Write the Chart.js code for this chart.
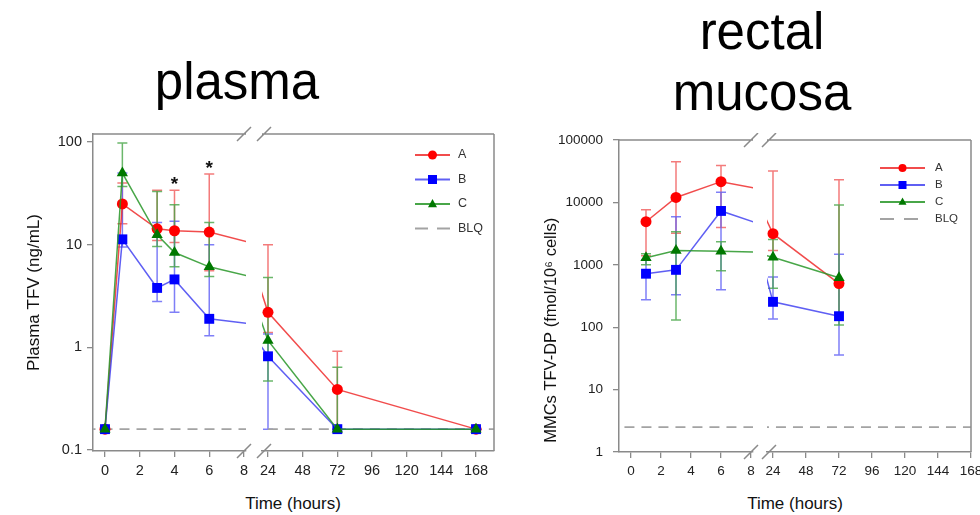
<!DOCTYPE html>
<html>
<head>
<meta charset="utf-8">
<script src="https://cdn.jsdelivr.net/npm/chart.js@4.4.1/dist/chart.umd.min.js"></script>
<style>
html, body { margin: 0; padding: 0; background: #fff; }
#wrap { position: relative; width: 980px; height: 515px; overflow: hidden; }
canvas { position: absolute; }
.ttl, .xt { position: absolute; transform: translateX(-50%); white-space: nowrap; color: #000;
  font-family: "Liberation Sans", Arial, Helvetica, sans-serif; }
.ttl { font-size: 51px; line-height: 51px; }
.xt { font-size: 17px; line-height: 20px; color: #111; }
</style>
</head>
<body>
<div id="wrap">
  <div class="ttl" style="left:237px;top:56px">plasma</div>
  <div class="ttl" style="left:762px;top:6px">rectal</div>
  <div class="ttl" style="left:762px;top:67px">mucosa</div>
  <div class="xt" style="left:293px;top:494px">Time (hours)</div>
  <div class="xt" style="left:795px;top:494px">Time (hours)</div>
  <canvas id="plasmaEarly" width="262" height="515" style="left:0;top:0"></canvas>
  <canvas id="plasmaLate" width="270" height="515" style="left:242px;top:0"></canvas>
  <canvas id="mucosaEarly" width="270" height="382" style="left:500px;top:133px"></canvas>
  <canvas id="mucosaLate" width="260" height="382" style="left:747px;top:133px"></canvas>
</div>
<script>
// ---- data: plasma TFV (ng/mL) ----
const plasmaHours = [0, 1, 3, 4, 6, 24, 72, 168]
const plasmaA = [0.16, 25, 14.3, 13.7, 13.3, 2.2, 0.39, 0.16]
const plasmaALow = [0.16, 16, 11, 10.5, 5.6, 1.4, 0.16, 0.16]
const plasmaAHigh = [0.16, 40, 34, 34, 49, 10, 0.92, 0.16]
const plasmaB = [0.16, 11.3, 3.8, 4.6, 1.9, 0.82, 0.16, 0.16]
const plasmaBLow = [0.16, 9.5, 2.8, 2.2, 1.3, 0.16, 0.16, 0.16]
const plasmaBHigh = [0.16, 50, 16.5, 17, 10, 1.35, 0.16, 0.16]
const plasmaC = [0.16, 50, 12.5, 8.4, 6.1, 1.17, 0.16, 0.16]
const plasmaCLow = [0.16, 37, 9.6, 6.1, 4.9, 0.47, 0.16, 0.16]
const plasmaCHigh = [0.16, 98, 33, 24.5, 16.5, 4.8, 0.64, 0.16]
const plasmaBLQ = 0.16
const plasmaStarHours = [4, 6]
const plasmaStarValues = [43, 62]

// ---- data: rectal mucosa MMCs TFV-DP (fmol/10^6 cells) ----
const mucosaHours = [1, 3, 6, 24, 72]
const mucosaA = [4900, 12000, 21500, 3150, 500]
const mucosaALow = [1400, 3200, 3950, 1700, 170]
const mucosaAHigh = [7600, 45000, 39000, 32000, 23000]
const mucosaB = [720, 830, 7300, 255, 150]
const mucosaBLow = [275, 330, 400, 135, 36]
const mucosaBHigh = [1200, 5900, 14600, 640, 1480]
const mucosaC = [1300, 1700, 1650, 1320, 620]
const mucosaCLow = [1000, 130, 800, 420, 108]
const mucosaCHigh = [1500, 3400, 2350, 2550, 9100]
const mucosaBLQ = 2.5

// ---- tick labels ----
const earlyTicks = [0, 2, 4, 6, 8]
const lateTicks = [24, 48, 72, 96, 120, 144, 168]
const plasmaYTicks = [0.1, 1, 10, 100]
const mucosaYTicks = [1, 10, 100, 1000, 10000, 100000]

const FONT = '"Liberation Sans", Arial, Helvetica, sans-serif'
const AXIS_GREY = '#8a8a8a'
Chart.defaults.font.family = FONT
Chart.defaults.color = '#222'
Chart.defaults.animation = false

const styles = {
    A: { marker: '#ff0000', line: 'rgba(238, 45, 45, 0.85)', err: 'rgba(240, 90, 90, 0.8)', pointStyle: 'circle', radius: 5.5, order: 3 },
    B: { marker: '#0000ff', line: 'rgba(55, 55, 240, 0.8)', err: 'rgba(95, 95, 245, 0.8)', pointStyle: 'rect', radius: 7, order: 2 },
    C: { marker: '#007800', line: 'rgba(40, 150, 40, 0.85)', err: 'rgba(70, 165, 70, 0.8)', pointStyle: 'triangle', radius: 6.5, order: 1 }
}

function seriesDataset(label, hours, values, lows, highs) {
    const s = styles[label]
    return {
        label: label,
        data: hours.map((h, i) => ({ x: h, y: values[i] })),
        errLow: lows,
        errHigh: highs,
        errColor: s.err,
        markerColor: s.marker,
        borderColor: s.line,
        borderWidth: 1.5,
        pointStyle: s.pointStyle,
        pointRadius: s.radius,
        pointBackgroundColor: s.marker,
        pointBorderColor: s.marker,
        pointBorderWidth: 0,
        tension: 0,
        order: s.order
    }
}

function blqDataset(value) {
    return {
        label: 'BLQ',
        data: [{ x: -1000, y: value }, { x: 1000, y: value }],
        borderColor: '#a3a3a3',
        borderWidth: 1.6,
        borderDash: [10, 7],
        pointRadius: 0,
        order: 9
    }
}

// vertical error bars with caps
const errorBarsPlugin = {
    id: 'errorBars',
    beforeDatasetsDraw(chart) {
        const ctx = chart.ctx
        const xs = chart.scales.x
        const ys = chart.scales.y
        const a = chart.chartArea
        ctx.save()
        ctx.beginPath()
        ctx.rect(a.left, a.top - 10, a.right - a.left, a.bottom - a.top + 10)
        ctx.clip()
        chart.data.datasets.forEach((ds) => {
            if (!ds.errLow) return
            ctx.strokeStyle = ds.errColor
            ctx.lineWidth = 1.5
            ds.data.forEach((p, i) => {
                if (p.x < xs.min || p.x > xs.max) return
                if (ds.errLow[i] == ds.errHigh[i]) return
                const px = xs.getPixelForValue(p.x)
                const lo = ys.getPixelForValue(ds.errLow[i])
                const hi = ys.getPixelForValue(ds.errHigh[i])
                ctx.beginPath()
                ctx.moveTo(px, lo)
                ctx.lineTo(px, hi)
                ctx.moveTo(px - 5, lo)
                ctx.lineTo(px + 5, lo)
                ctx.moveTo(px - 5, hi)
                ctx.lineTo(px + 5, hi)
                ctx.stroke()
            })
        })
        ctx.restore()
    }
}

// top / right border of the box and the axis-break slashes
const framePlugin = {
    id: 'frame',
    afterDraw(chart, args, opts) {
        const ctx = chart.ctx
        const a = chart.chartArea
        ctx.save()
        ctx.strokeStyle = AXIS_GREY
        ctx.lineWidth = 1.5
        ctx.beginPath()
        ctx.moveTo(a.left, a.top)
        ctx.lineTo(a.right, a.top)
        if (opts.rightBorder) {
            ctx.moveTo(a.right, a.top)
            ctx.lineTo(a.right, a.bottom)
        }
        const bx = opts.breakSide == 'right' ? a.right - 2 : a.left + 2
        for (const yy of [a.top, a.bottom]) {
            ctx.moveTo(bx - 7, yy + 7)
            ctx.lineTo(bx + 7, yy - 7)
        }
        ctx.stroke()
        ctx.restore()
    }
}

// significance stars
const starPlugin = {
    id: 'stars',
    afterDatasetsDraw(chart, args, opts) {
        if (!opts.hours) return
        const ctx = chart.ctx
        ctx.save()
        ctx.fillStyle = '#111'
        ctx.font = 'bold 19px ' + FONT
        ctx.textAlign = 'center'
        ctx.textBaseline = 'middle'
        opts.hours.forEach((h, i) => {
            ctx.fillText('*', chart.scales.x.getPixelForValue(h), chart.scales.y.getPixelForValue(opts.values[i]) + 5)
        })
        ctx.restore()
    }
}

function drawMarker(ctx, style, x, y, size) {
    ctx.beginPath()
    if (style == 'circle') {
        ctx.arc(x, y, size, 0, Math.PI * 2)
    } else if (style == 'rect') {
        ctx.rect(x - size, y - size, size * 2, size * 2)
    } else {
        ctx.moveTo(x, y - size * 1.1)
        ctx.lineTo(x + size, y + size * 0.7)
        ctx.lineTo(x - size, y + size * 0.7)
        ctx.closePath()
    }
    ctx.fill()
}

// legend inside the plot (line + marker samples)
const legendPlugin = {
    id: 'lineLegend',
    afterDraw(chart, args, opts) {
        if (!opts.show) return
        const ctx = chart.ctx
        const a = chart.chartArea
        const order = ['A', 'B', 'C', 'BLQ']
        ctx.save()
        ctx.font = opts.fontSize + 'px ' + FONT
        ctx.textBaseline = 'middle'
        ctx.textAlign = 'left'
        order.forEach((name, i) => {
            const ds = chart.data.datasets.find((d) => d.label == name)
            const y = a.top + opts.top + i * opts.gap
            const x0 = a.right - opts.right
            ctx.strokeStyle = ds.borderColor
            ctx.lineWidth = name == 'BLQ' ? 2 : 1.8
            ctx.setLineDash(name == 'BLQ' ? opts.dash : [])
            ctx.beginPath()
            ctx.moveTo(x0, y)
            ctx.lineTo(x0 + opts.len, y)
            ctx.stroke()
            ctx.setLineDash([])
            if (name != 'BLQ') {
                ctx.fillStyle = ds.markerColor
                drawMarker(ctx, styles[name].pointStyle, x0 + opts.len / 2, y, opts.marker)
            }
            ctx.fillStyle = '#333'
            ctx.fillText(name, x0 + opts.len + opts.textGap, y)
        })
        ctx.restore()
    }
}

function makeChart(id, cfg) {
    return new Chart(document.getElementById(id), {
        type: 'line',
        data: { datasets: cfg.datasets },
        plugins: [errorBarsPlugin, framePlugin, starPlugin, legendPlugin],
        options: {
            responsive: false,
            animation: false,
            events: [],
            layout: { padding: cfg.pad },
            scales: {
                x: {
                    type: 'linear',
                    min: cfg.xMin,
                    max: cfg.xMax,
                    afterBuildTicks: (scale) => {
                        scale.ticks = cfg.xTicks.map((v) => ({ value: v }))
                    },
                    afterFit: (scale) => {
                        scale.height = 40
                        scale.paddingLeft = 0
                        scale.paddingRight = 0
                    },
                    ticks: {
                        font: { size: cfg.tickSize },
                        color: '#222',
                        padding: 5,
                        maxRotation: 0,
                        autoSkip: false,
                        callback: (v) => String(v)
                    },
                    grid: { drawOnChartArea: false, drawTicks: true, tickLength: 6, color: AXIS_GREY, lineWidth: 1.3 },
                    border: { display: true, color: AXIS_GREY, width: 1.5 }
                },
                y: {
                    type: 'logarithmic',
                    display: cfg.showY,
                    min: cfg.yMin,
                    max: cfg.yMax,
                    afterBuildTicks: (scale) => {
                        scale.ticks = cfg.yTicks.map((v) => ({ value: v }))
                    },
                    afterFit: (scale) => {
                        if (cfg.showY) scale.width = cfg.yWidth
                        scale.paddingTop = 0
                        scale.paddingBottom = 0
                    },
                    ticks: {
                        font: { size: cfg.tickSize },
                        color: '#222',
                        padding: cfg.yTickPad,
                        autoSkip: false,
                        callback: (v) => String(v)
                    },
                    title: {
                        display: cfg.showY,
                        text: cfg.yTitle,
                        color: '#111',
                        align: cfg.yTitleAlign,
                        font: { size: cfg.yTitleSize },
                        padding: { top: cfg.yTitlePad, bottom: 0 }
                    },
                    grid: { drawOnChartArea: false, drawTicks: true, tickLength: 6, color: AXIS_GREY, lineWidth: 1.3 },
                    border: { display: true, color: AXIS_GREY, width: 1.5 }
                }
            },
            plugins: {
                legend: { display: false },
                tooltip: { enabled: false },
                frame: { breakSide: cfg.breakSide, rightBorder: cfg.rightBorder },
                stars: cfg.stars || {},
                lineLegend: cfg.legend || { show: false }
            }
        }
    })
}

function plasmaSets() {
    return [
        seriesDataset('A', plasmaHours, plasmaA, plasmaALow, plasmaAHigh),
        seriesDataset('B', plasmaHours, plasmaB, plasmaBLow, plasmaBHigh),
        seriesDataset('C', plasmaHours, plasmaC, plasmaCLow, plasmaCHigh),
        blqDataset(plasmaBLQ)
    ]
}

function mucosaSets() {
    return [
        seriesDataset('A', mucosaHours, mucosaA, mucosaALow, mucosaAHigh),
        seriesDataset('B', mucosaHours, mucosaB, mucosaBLow, mucosaBHigh),
        seriesDataset('C', mucosaHours, mucosaC, mucosaCLow, mucosaCHigh),
        blqDataset(mucosaBLQ)
    ]
}

const plasmaY = { yMin: 0.098, yMax: 120, yTicks: plasmaYTicks, tickSize: 14.5 }
const mucosaY = { yMin: 1, yMax: 100000, yTicks: mucosaYTicks, tickSize: 13.5 }

makeChart('plasmaEarly', Object.assign({
    datasets: plasmaSets(),
    xMin: -0.69, xMax: 8.115, xTicks: earlyTicks,
    showY: true, yWidth: 93, yTickPad: 5,
    yTitle: 'Plasma TFV (ng/mL)', yTitleSize: 17, yTitlePad: 24, yTitleAlign: 'center',
    pad: { left: 0, top: 134, right: 16, bottom: 24 },
    breakSide: 'right', rightBorder: false,
    stars: { hours: plasmaStarHours, values: plasmaStarValues }
}, plasmaY))

makeChart('plasmaLate', Object.assign({
    datasets: plasmaSets(),
    xMin: 19.85, xMax: 180.46, xTicks: lateTicks,
    showY: false,
    pad: { left: 20, top: 134, right: 18, bottom: 24 },
    breakSide: 'left', rightBorder: true,
    legend: { show: true, right: 79, top: 21, gap: 24.5, len: 35, textGap: 8, fontSize: 12.5, marker: 4.5, dash: [13, 9] }
}, plasmaY))

makeChart('mucosaEarly', Object.assign({
    datasets: mucosaSets(),
    xMin: -0.8, xMax: 8.133, xTicks: earlyTicks,
    showY: true, yWidth: 119, yTickPad: 10,
    yTitle: '  MMCs TFV-DP (fmol/10\u2076 cells)', yTitleSize: 16.5, yTitlePad: 42, yTitleAlign: 'start',
    pad: { left: 0, top: 2, right: 17, bottom: 23 },
    breakSide: 'right', rightBorder: false
}, mucosaY))

makeChart('mucosaLate', Object.assign({
    datasets: mucosaSets(),
    xMin: 19.64, xMax: 168, xTicks: lateTicks,
    showY: false,
    pad: { left: 20, top: 2, right: 36, bottom: 23 },
    breakSide: 'left', rightBorder: true,
    legend: { show: true, right: 91, top: 28, gap: 17, len: 45, textGap: 10, fontSize: 11.5, marker: 4, dash: [14, 10] }
}, mucosaY))
</script>
</body>
</html>
